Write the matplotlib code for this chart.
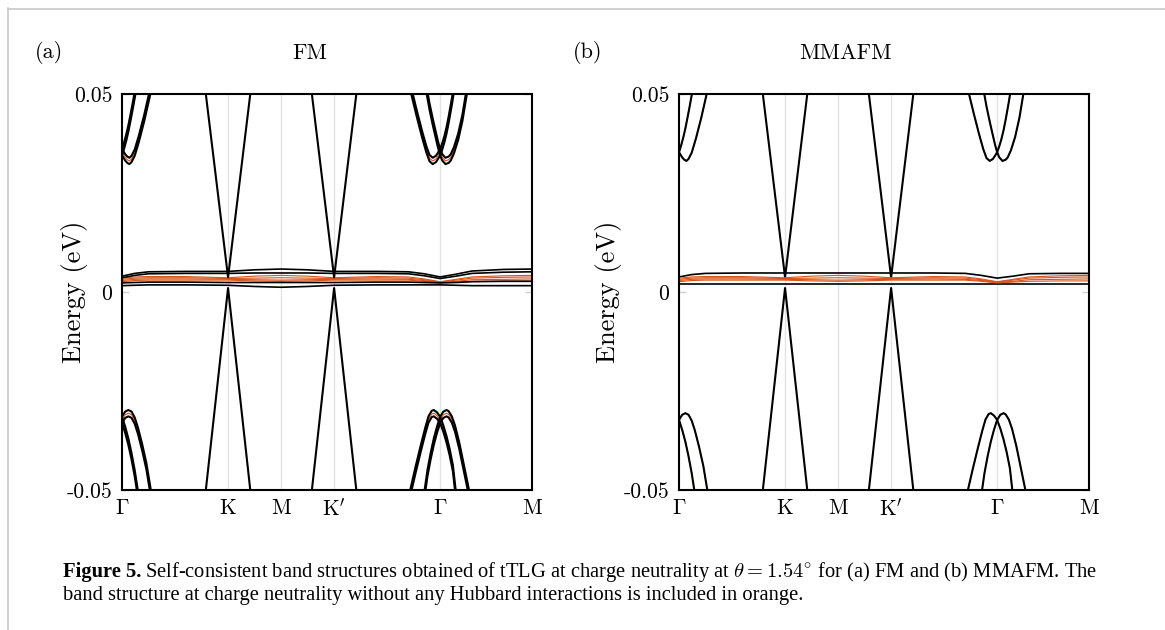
import numpy as np
import matplotlib
matplotlib.use('Agg')
import matplotlib.pyplot as plt
from matplotlib.lines import Line2D

plt.rcParams['mathtext.fontset'] = 'cm'
plt.rcParams['font.family'] = ['cmr10', 'DejaVu Serif']
plt.rcParams['axes.unicode_minus'] = False

# ---------------- high-symmetry path ----------------
k_ticks = [0.0, 1.0, 1.5, 2.0, 3.0, 3.866]
k_labels = [r'$\Gamma$', 'K', 'M', "K$'$", r'$\Gamma$', 'M']
e_ticks = [-0.05, 0.0, 0.05]
e_labels = ['-0.05', '0', '0.05']
panel_tags = ['(a)', '(b)']
panel_titles = ['FM', 'MMAFM']

# ---------------- remote (dispersive) bands near Gamma ----------------
cond1_k = [0.0, 0.03, 0.05, 0.07, 0.09, 0.12, 0.16, 0.21, 0.265]
cond1_E = [0.0353, 0.0340, 0.0334, 0.0331, 0.0336, 0.0352, 0.0388, 0.0440, 0.0505]
cond2_k = [0.0, 0.02, 0.04, 0.06, 0.08, 0.10, 0.125]
cond2_E = [0.0353, 0.0370, 0.0390, 0.0413, 0.0440, 0.0468, 0.0505]
cond3_k = [2.73, 2.78, 2.83, 2.87, 2.90, 2.93, 2.96, 2.98, 3.00, 3.02, 3.04, 3.06, 3.08, 3.11, 3.125]
cond3_E = [0.0505, 0.0450, 0.0398, 0.0360, 0.0338, 0.0331, 0.0336, 0.0344, 0.0353, 0.0368, 0.0386, 0.0408, 0.0435, 0.0480, 0.0505]
cond4_k = [2.875, 2.90, 2.93, 2.96, 2.98, 3.00, 3.02, 3.05, 3.08, 3.10, 3.13, 3.17, 3.21, 3.25]
cond4_E = [0.0505, 0.0468, 0.0430, 0.0395, 0.0372, 0.0353, 0.0340, 0.0331, 0.0334, 0.0340, 0.0358, 0.0392, 0.0440, 0.0505]

val1_k = [0.0, 0.03, 0.06, 0.09, 0.12, 0.15, 0.19, 0.23, 0.27]
val1_E = [-0.0323, -0.0310, -0.0306, -0.0310, -0.0325, -0.0350, -0.0392, -0.0440, -0.0505]
val2_k = [0.0, 0.03, 0.06, 0.09, 0.12, 0.147]
val2_E = [-0.0323, -0.0348, -0.0378, -0.0415, -0.0458, -0.0505]
val3_k = [2.72, 2.77, 2.82, 2.86, 2.89, 2.92, 2.94, 2.97, 3.00, 3.03, 3.06, 3.09, 3.12, 3.145]
val3_E = [-0.0505, -0.0447, -0.0392, -0.0350, -0.0322, -0.0308, -0.0306, -0.0312, -0.0323, -0.0345, -0.0372, -0.0405, -0.0445, -0.0505]
val4_k = [2.855, 2.88, 2.91, 2.94, 2.97, 3.00, 3.03, 3.06, 3.08, 3.11, 3.14, 3.18, 3.22, 3.27]
val4_E = [-0.0505, -0.0458, -0.0415, -0.0378, -0.0348, -0.0323, -0.0310, -0.0306, -0.0309, -0.0322, -0.0345, -0.0388, -0.0440, -0.0505]

# FM exchange splitting of remote bands
fm_split_cond = 0.0008
fm_split_val = 0.0008

# ---------------- Dirac cones at K and K' ----------------
coneK_k = [0.77, 1.00, 1.23]
coneKp_k = [1.77, 2.00, 2.23]
cone_up_E = [0.0545, 0.0037, 0.0545]
cone_dn_E = [-0.0550, 0.0010, -0.0550]

# ---------------- flat bands ----------------
flat_k = [0.0, 0.12, 0.25, 0.6, 1.0, 1.25, 1.5, 1.75, 2.0, 2.4, 2.7, 2.85, 3.0, 3.15, 3.3, 3.6, 3.866]
orange1 = [0.0035, 0.0038, 0.0039, 0.0039, 0.0036, 0.0040, 0.0042, 0.0040, 0.0036, 0.0039, 0.0038, 0.0033, 0.0026, 0.0032, 0.0038, 0.0041, 0.0042]
orange2 = [0.0032, 0.0035, 0.0036, 0.0036, 0.0034, 0.0035, 0.0036, 0.0035, 0.0034, 0.0036, 0.0035, 0.0031, 0.0025, 0.0030, 0.0035, 0.0037, 0.0038]
orange3 = [0.0029, 0.0032, 0.0033, 0.0033, 0.0032, 0.0031, 0.0030, 0.0031, 0.0032, 0.0033, 0.0032, 0.0029, 0.0024, 0.0027, 0.0031, 0.0032, 0.0033]
orange4 = [0.0026, 0.0029, 0.0030, 0.0030, 0.0030, 0.0028, 0.0027, 0.0028, 0.0030, 0.0030, 0.0030, 0.0027, 0.0023, 0.0025, 0.0027, 0.0028, 0.0028]

fm_flat1 = [0.0040, 0.0047, 0.0051, 0.0052, 0.0052, 0.0056, 0.0058, 0.0056, 0.0052, 0.0052, 0.0051, 0.0046, 0.0038, 0.0045, 0.0053, 0.0057, 0.0058]
fm_flat2 = [0.0036, 0.0042, 0.0046, 0.0047, 0.0047, 0.0048, 0.0048, 0.0048, 0.0047, 0.0047, 0.0046, 0.0041, 0.0034, 0.0040, 0.0047, 0.0050, 0.0051]
fm_flat3 = [0.0023, 0.0024, 0.0025, 0.0025, 0.0024, 0.0024, 0.0024, 0.0024, 0.0024, 0.0025, 0.0025, 0.0024, 0.0023, 0.0024, 0.0026, 0.0027, 0.0027]
fm_flat4 = [0.0016, 0.0017, 0.0018, 0.0018, 0.0017, 0.0014, 0.0012, 0.0014, 0.0017, 0.0018, 0.0018, 0.0018, 0.0018, 0.0017, 0.0016, 0.0016, 0.0016]

afm_flat_top = [0.0038, 0.0044, 0.0047, 0.0048, 0.0048, 0.0048, 0.0048, 0.0048, 0.0048, 0.0048, 0.0047, 0.0042, 0.0035, 0.0040, 0.0046, 0.0047, 0.0047]
afm_flat_bot = [0.0021, 0.0021, 0.0021, 0.0021, 0.0021, 0.0021, 0.0021, 0.0021, 0.0021, 0.0021, 0.0021, 0.0021, 0.0021, 0.0021, 0.0021, 0.0021, 0.0021]

ORANGE = '#D95319'
BLACK = '#000000'
GRID = '#e3e3e3'
LW_B = 1.5
LW_O = 0.8

remote_cond = [(cond1_k, cond1_E), (cond2_k, cond2_E), (cond3_k, cond3_E), (cond4_k, cond4_E)]
remote_val = [(val1_k, val1_E), (val2_k, val2_E), (val3_k, val3_E), (val4_k, val4_E)]
orange_flat = [orange1, orange2, orange3, orange4]

W, H = 1165, 630
fig = plt.figure(figsize=(W / 100, H / 100), dpi=100)

ax_a = fig.add_axes([122 / W, 1 - 490 / H, 410 / W, 396 / H])
ax_b = fig.add_axes([679 / W, 1 - 490 / H, 410 / W, 396 / H])


def draw_cones(ax):
    for kk in (coneK_k, coneKp_k):
        ax.plot(kk, cone_up_E, color=BLACK, lw=LW_B, zorder=3)
        ax.plot(kk, cone_dn_E, color=BLACK, lw=LW_B, zorder=3)


def draw_orange(ax, z):
    for kk, ee in remote_cond + remote_val:
        ax.plot(kk, ee, color=ORANGE, lw=LW_O, zorder=2)
    for ee in orange_flat:
        ax.plot(flat_k, ee, color=ORANGE, lw=LW_O, zorder=z)


# ---- panel (a): FM ----
draw_orange(ax_a, 2)
for kk, ee in remote_cond:
    ax_a.plot(kk, np.array(ee) + fm_split_cond, color=BLACK, lw=LW_B, zorder=3)
    ax_a.plot(kk, np.array(ee) - fm_split_cond, color=BLACK, lw=LW_B, zorder=3)
for kk, ee in remote_val:
    ax_a.plot(kk, np.array(ee) + fm_split_val, color=BLACK, lw=LW_B, zorder=3)
    ax_a.plot(kk, np.array(ee) - fm_split_val, color=BLACK, lw=LW_B, zorder=3)
for ee in (fm_flat1, fm_flat2, fm_flat3, fm_flat4):
    ax_a.plot(flat_k, ee, color=BLACK, lw=1.2, zorder=3)
draw_cones(ax_a)

# ---- panel (b): MMAFM ----
draw_orange(ax_b, 4)
for kk, ee in remote_cond + remote_val:
    ax_b.plot(kk, ee, color=BLACK, lw=LW_B, zorder=3)
for ee in (afm_flat_top, afm_flat_bot):
    ax_b.plot(flat_k, ee, color=BLACK, lw=1.2, zorder=3)
draw_cones(ax_b)

label_x = [-0.083, -0.14]
for ax, lx in zip((ax_a, ax_b), label_x):
    ax.set_xlim(k_ticks[0], k_ticks[-1])
    ax.set_ylim(e_ticks[0], e_ticks[-1])
    ax.set_xticks(k_ticks)
    ax.set_xticklabels(k_labels, fontsize=15.5)
    ax.set_yticks(e_ticks)
    ax.set_yticklabels(e_labels, fontsize=15.5)
    ax.tick_params(axis='x', length=0, pad=6)
    ax.tick_params(axis='y', direction='in', length=5, width=1, color='#cfcfcf',
                   right=True, pad=7)
    for xv in k_ticks[1:-1]:
        ax.axvline(xv, color=GRID, lw=1.0, zorder=1)
    for s in ax.spines.values():
        s.set_linewidth(1.5)
        s.set_color('black')
        s.set_zorder(5)
    ax.set_ylabel('Energy (eV)', fontsize=19)
    ax.yaxis.set_label_coords(lx, 0.5)

fig.text(49 / W, 1 - 53 / H, panel_tags[0], fontsize=16, ha='center', va='center')
fig.text(310 / W, 1 - 53 / H, panel_titles[0], fontsize=16, ha='center', va='center')
fig.text(588 / W, 1 - 53 / H, panel_tags[1], fontsize=16, ha='center', va='center')
fig.text(845 / W, 1 - 53 / H, panel_titles[1], fontsize=16, ha='center', va='center')

# figure frame (light gray)
fig.add_artist(Line2D([7.5 / W, 7.5 / W], [0, 1 - 8 / H], transform=fig.transFigure,
                      color='#c8c8c8', lw=1.2))
fig.add_artist(Line2D([7.5 / W, 1], [1 - 8.5 / H, 1 - 8.5 / H], transform=fig.transFigure,
                      color='#c8c8c8', lw=1.2))

# caption
cap_fs = 14.8
cap_font = ['Liberation Serif', 'DejaVu Serif']
y1 = 1 - 577 / H
y2 = 1 - 600 / H
t_bold = fig.text(63 / W, y1, 'Figure 5.', fontsize=cap_fs, family=cap_font,
                  fontweight='bold', va='baseline', ha='left')
fig.canvas.draw()
bb = t_bold.get_window_extent(renderer=fig.canvas.get_renderer())
fig.text((bb.x1 + 4) / W, y1,
         r'Self-consistent band structures obtained of tTLG at charge neutrality at $\theta = 1.54^{\circ}$ for (a) FM and (b) MMAFM. The',
         fontsize=cap_fs, family=cap_font, va='baseline', ha='left')
fig.text(63 / W, y2,
         'band structure at charge neutrality without any Hubbard interactions is included in orange.',
         fontsize=cap_fs, family=cap_font, va='baseline', ha='left')

fig.savefig('out.png', dpi=100)
